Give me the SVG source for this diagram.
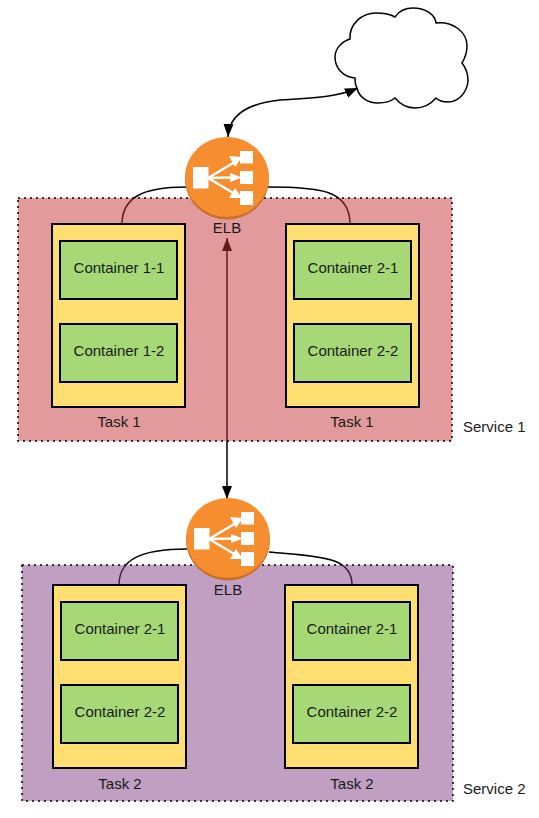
<svg xmlns="http://www.w3.org/2000/svg" width="539" height="818" viewBox="0 0 539 818">
<style>
text{font-family:"Liberation Sans",Arial,sans-serif;font-size:15px;fill:#1a1a1a;text-anchor:middle}
.l{text-anchor:start}
.c{fill:none;stroke:#000;stroke-width:1.5}
.svc{stroke:#000;stroke-width:1.5;stroke-dasharray:2 4}
.task{fill:#ffdf71;stroke:#000;stroke-width:2}
.box{fill:#a6d976;stroke:#000;stroke-width:2}
.rim{fill:#c8702a}.disc{fill:#f68d2e}.ic{fill:#fff}.ar{stroke:#fff;stroke-width:2.500;fill:none}
</style>
<defs>
<marker id="a" markerUnits="userSpaceOnUse" markerWidth="14" markerHeight="12" refX="13" refY="5" orient="auto-start-reverse" viewBox="0 0 14 10"><path d="M0 0L13 5L0 10z" fill="#000"/></marker>
<g id="elb">
<ellipse class="rim" cx="0" cy="2.500" rx="42" ry="40"/>
<ellipse class="disc" cx="0" cy="0" rx="42" ry="40"/>
<rect class="ic" x="-34" y="-10" width="15.500" height="21.500"/>
<rect class="ic" x="13" y="-26" width="13" height="12.500"/>
<rect class="ic" x="13" y="-6" width="13" height="13"/>
<rect class="ic" x="13" y="14" width="13" height="14"/>
<path class="ar" d="M-19 1L8 -15M-19 1L8 0.500M-19 1L8 17"/>
<path class="ic" d="M15 -20L2 -21L8 -10zM15 0.500L3 -4L3 5zM15 21L8 11L2 21z"/>
</g>
</defs>
<g id="connectors">
<path class="c" d="M122 224C122 198 142 187 186 187"/>
<path class="c" d="M268 187C320 187 350 190 350 224"/>
<path class="c" d="M119 585C119 560 140 549 187 549"/>
<path class="c" d="M269 552C320 557 352 556 352 585"/>
<path class="c" d="M227 238V499" marker-start="url(#a)" marker-end="url(#a)"/>
<path class="c" d="M228 137C229 112 252 103 280 100C310 98 335 98 358 88" marker-start="url(#a)" marker-end="url(#a)"/>
</g>
<g id="service1"><rect class="svc" x="18" y="198" width="434" height="243" fill="#c5353b" fill-opacity=".5"/><text class="l" x="463" y="432">Service 1</text></g>
<g id="service2"><rect class="svc" x="22" y="565" width="431" height="236" fill="#813f87" fill-opacity=".5"/><text class="l" x="463" y="794">Service 2</text></g>
<g id="cloud"><path d="M355 78C343 77 335 68 335 57C335 49 341 42 350 39C349 24 362 13 376 13C384 13 390 14 395 17C399 11 406 8 413 8C425 8 435 14 436 23C453 21 467 32 467 46C467 53 465 58 462 63C466 68 468 75 468 81C467 93 458 102 448 102C443 102 439 101 436 98C430 105 423 108 415 108C406 108 400 104 395 98C390 102 384 103 378 103C367 103 359 97 357 88C355 85 355 81 355 78Z" fill="#fff" stroke="#000" stroke-width="1.5"/></g>
<g id="elb1"><use href="#elb" x="227" y="177"/><text x="227" y="233">ELB</text></g>
<g id="elb2"><use href="#elb" x="228" y="538"/><text x="228" y="595">ELB</text></g>
<g id="task1a"><rect class="task" x="52" y="224" width="133" height="183"/><text x="119" y="427">Task 1</text></g>
<g id="c11"><rect class="box" x="60" y="241" width="117" height="58"/><text x="119" y="273">Container 1-1</text></g>
<g id="c12"><rect class="box" x="60" y="324" width="117" height="58"/><text x="119" y="356">Container 1-2</text></g>
<g id="task1b"><rect class="task" x="286" y="224" width="133" height="183"/><text x="352" y="427">Task 1</text></g>
<g id="c21"><rect class="box" x="294" y="241" width="117" height="58"/><text x="353" y="273">Container 2-1</text></g>
<g id="c22"><rect class="box" x="294" y="324" width="117" height="58"/><text x="353" y="356">Container 2-2</text></g>
<g id="task2a"><rect class="task" x="53" y="585" width="133" height="183"/><text x="120" y="789">Task 2</text></g>
<g id="c31"><rect class="box" x="61" y="602" width="117" height="58"/><text x="120" y="634">Container 2-1</text></g>
<g id="c32"><rect class="box" x="61" y="685" width="117" height="58"/><text x="120" y="717">Container 2-2</text></g>
<g id="task2b"><rect class="task" x="285" y="585" width="133" height="183"/><text x="352" y="789">Task 2</text></g>
<g id="c41"><rect class="box" x="293" y="602" width="117" height="58"/><text x="352" y="634">Container 2-1</text></g>
<g id="c42"><rect class="box" x="293" y="685" width="117" height="58"/><text x="352" y="717">Container 2-2</text></g>
</svg>
